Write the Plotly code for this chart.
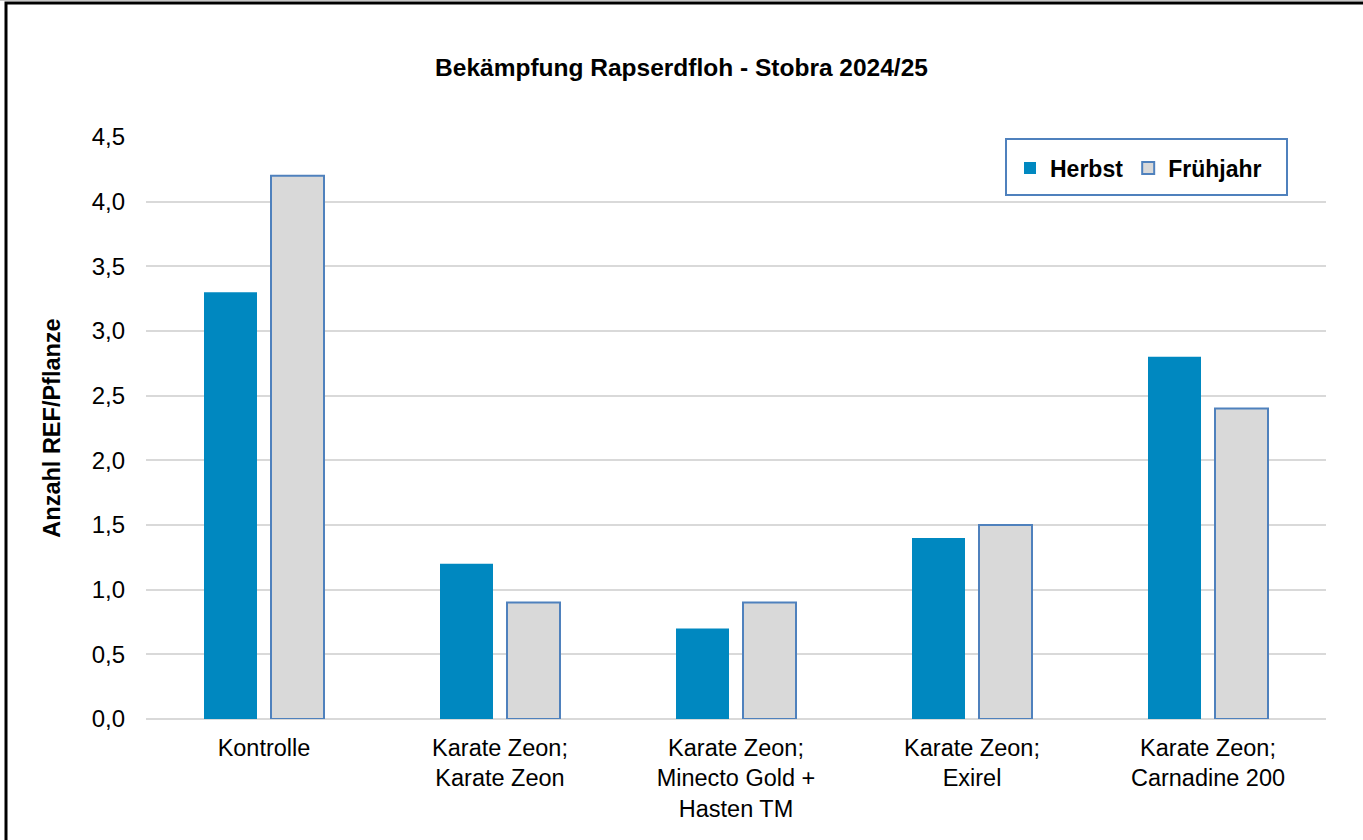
import plotly.graph_objects as go

categories = ["Kontrolle", "Karate Zeon;<br>Karate Zeon", "Karate Zeon;<br>Minecto Gold +<br>Hasten TM",
              "Karate Zeon;<br>Exirel", "Karate Zeon;<br>Carnadine 200"]
herbst = [3.3, 1.2, 0.7, 1.4, 2.8]
fruehjahr = [4.2, 0.9, 0.9, 1.5, 2.4]
y_ticks = [0.0, 0.5, 1.0, 1.5, 2.0, 2.5, 3.0, 3.5, 4.0, 4.5]

FONT = "Liberation Sans, Arial, sans-serif"

W, H = 1363, 840
L, R, T, B = 146, 37, 137, 121
PW, PH = W - L - R, H - T - B
CAT = PW / len(categories)
BARW = 53 / CAT

def px2x(px):
    return (px - L) / PW

def px2y(py):
    return (H - B - py) / PH

fig = go.Figure()
fig.add_trace(go.Bar(
    name="Herbst", x=categories, y=herbst,
    marker=dict(color="#0088C0", line=dict(width=0)),
    width=BARW, offset=-60 / CAT,
))
fig.add_trace(go.Bar(
    name="Frühjahr", x=categories, y=fruehjahr,
    marker=dict(color="#D9D9D9", line=dict(color="#4F81BD", width=2)),
    width=BARW, offset=7 / CAT,
))

fig.update_layout(
    width=W, height=H,
    margin=dict(l=L, r=R, t=T, b=B),
    paper_bgcolor="white", plot_bgcolor="white",
    font=dict(family=FONT, size=24, color="black"),
    barmode="group",
    title=dict(text="<b>Bekämpfung Rapserdfloh - Stobra 2024/25</b>",
               x=0.5, xanchor="center", y=1 - 67 / H, yanchor="middle",
               font=dict(family=FONT, size=24.5, color="black")),
    xaxis=dict(showgrid=False, showline=False, ticks="", tickfont=dict(size=23.5),
               ticklabelstandoff=12,
               range=[-0.5, len(categories) - 0.5]),
    yaxis=dict(range=[0, 4.5], tickvals=y_ticks, tickformat=".1f",
               showgrid=True, gridcolor="#D9D9D9", gridwidth=2,
               zeroline=True, zerolinecolor="#D9D9D9", zerolinewidth=2,
               showline=False, ticks="", ticklabelstandoff=20,
               tickfont=dict(size=24),
               title=dict(text="<b>Anzahl REF/Pflanze</b>", font=dict(size=23.5), standoff=24)),
    separators=",.",
    showlegend=True,
    legend=dict(orientation="h", x=px2x(1010), y=px2y(168), xanchor="left", yanchor="middle",
                borderwidth=0, bgcolor="rgba(0,0,0,0)",
                font=dict(size=23, color="black", family=FONT, weight="bold"),
                itemwidth=30, traceorder="normal"),
    shapes=[
        dict(type="rect", xref="paper", yref="paper",
             x0=px2x(1006), x1=px2x(1287), y0=px2y(139), y1=px2y(195),
             line=dict(color="#4F81BD", width=2), fillcolor="white", layer="above"),
        dict(type="rect", xref="paper", yref="paper",
             x0=px2x(6), x1=px2x(1500), y0=px2y(3), y1=px2y(1000),
             line=dict(color="black", width=3), fillcolor="rgba(0,0,0,0)", layer="above"),
        dict(type="line", xref="paper", yref="paper",
             x0=px2x(0), x1=px2x(1363), y0=px2y(0.5), y1=px2y(0.5),
             line=dict(color="#C8C8C8", width=1)),
    ],
)

fig.write_html("out.html", config={"displayModeBar": False},
               post_script="document.body.style.margin='0px';document.body.style.overflow='hidden';")
